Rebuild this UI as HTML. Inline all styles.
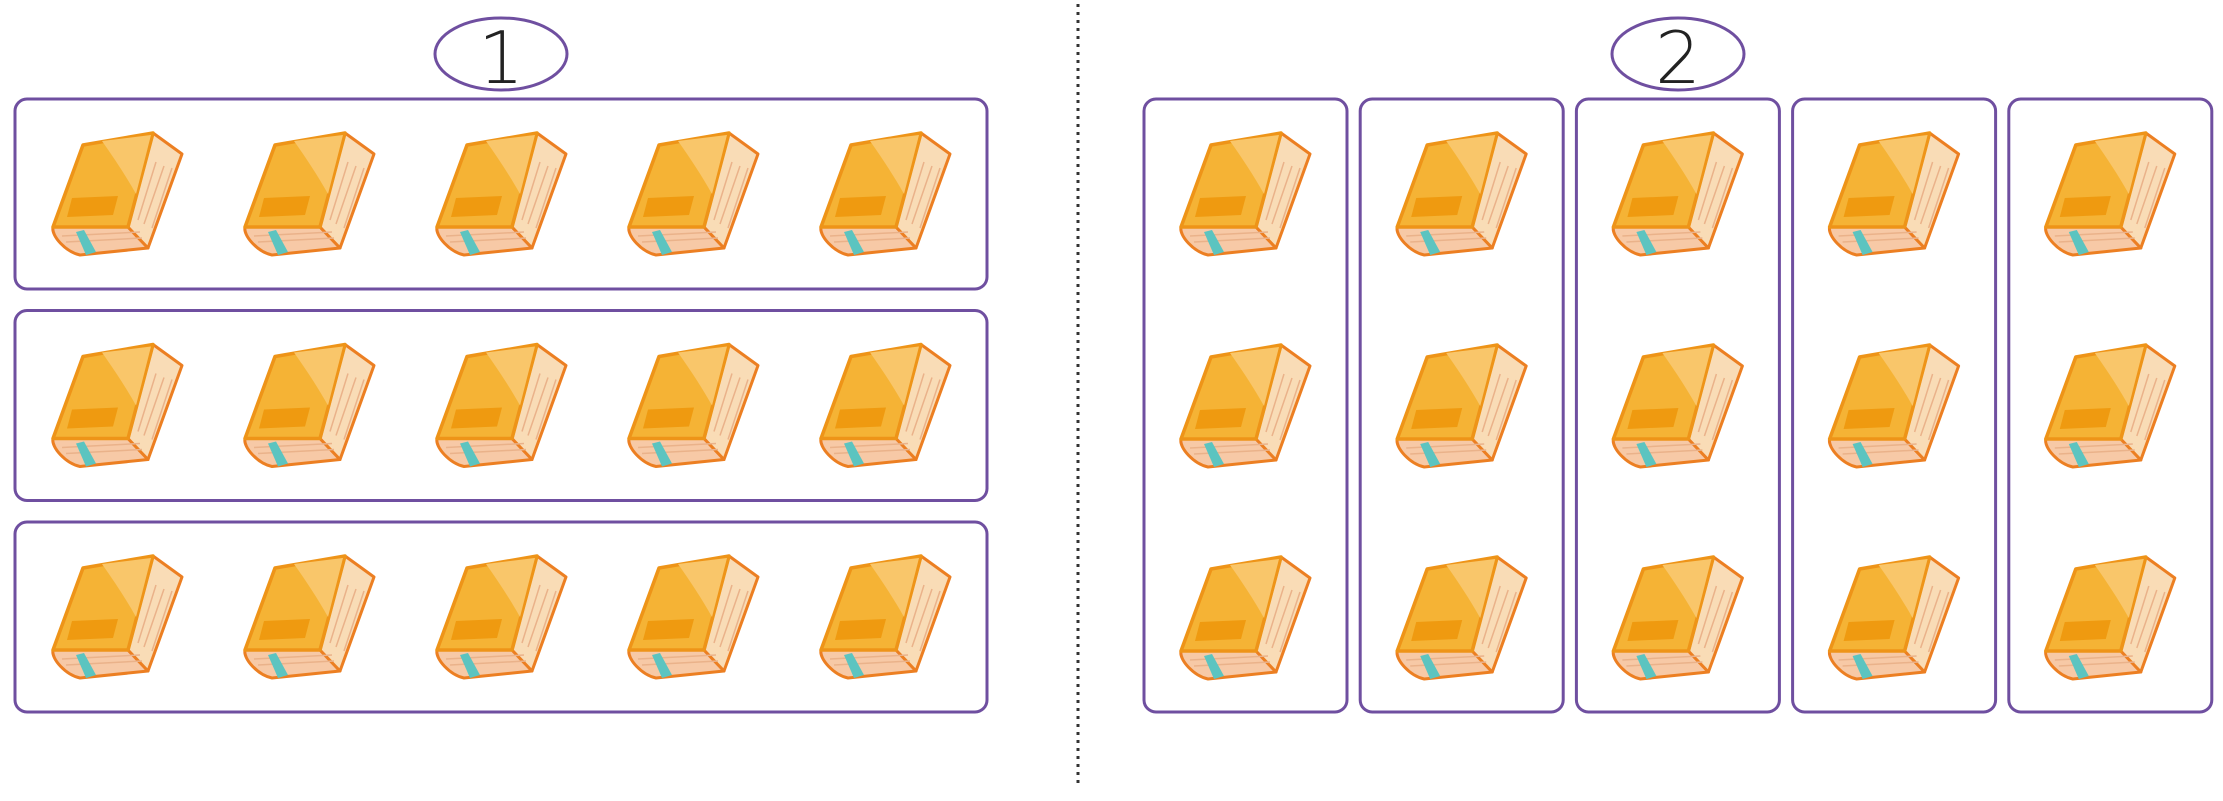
<!DOCTYPE html>
<html><head><meta charset="utf-8"><style>
html,body{margin:0;padding:0;background:#fff;width:2223px;height:801px;overflow:hidden}
svg{display:block}
</style></head><body>
<svg id="s" width="2223" height="801" viewBox="0 0 2223 801" xmlns="http://www.w3.org/2000/svg">
<defs>
<g id="book">
  <path d="M1,95 C-1,104 14,120 28,123 L96,116 L76,95 Z" fill="#f7c9a6" stroke="#ec7f22" stroke-width="3" stroke-linejoin="round"/>
  <path d="M101,1 L130,22 L96,116 L76,95 Z" fill="#f9dcb6" stroke="#ec7f22" stroke-width="3" stroke-linejoin="round"/>
  <path d="M104,30 L86,88 M112,34 L92,92 M120,36 L100,96" stroke="#eab28a" stroke-width="1.5"/>
  <path d="M10,104 L88,100 M14,110 L90,106" stroke="#eab28a" stroke-width="1.5"/>
  <path d="M31,13 L101,1 L76,95 L1,95 Z" fill="#f5b335" stroke="#ee9418" stroke-width="3.5" stroke-linejoin="round"/>
  <path d="M50,9 L99,3 L84,62 C74,44 62,26 50,9 Z" fill="#f9c66a"/>
  <path d="M20,66 L66,64 L61,83 L15,85 Z" fill="#ef9a10"/>
  <path d="M24,100 L32,98 L44,120 L34,123 Z" fill="#5cc4c0"/>
</g>
</defs>
<line x1="1078" y1="4" x2="1078" y2="784" stroke="#333" stroke-width="3" stroke-dasharray="3,5"/>
<ellipse cx="501" cy="54" rx="66" ry="36" fill="none" stroke="#6f4fa0" stroke-width="3"/>
<text x="501" y="83" text-anchor="middle" font-family="DejaVu Sans ExtraLight, DejaVu Sans, sans-serif" font-weight="200" font-size="72" fill="#222">1</text>
<ellipse cx="1678" cy="54" rx="66" ry="36" fill="none" stroke="#6f4fa0" stroke-width="3"/>
<text x="1678" y="83" text-anchor="middle" font-family="DejaVu Sans ExtraLight, DejaVu Sans, sans-serif" font-weight="200" font-size="72" fill="#222">2</text>
<g id="groups"></g>
</svg>
<script>
var leftRowCounts=[5,5,5];
var rightColCounts=[3,3,3,3,3];
var NS="http://www.w3.org/2000/svg";
var g=document.getElementById('groups');
function box(x,y,w,h,name){var r=document.createElementNS(NS,'rect');r.setAttribute('x',x);r.setAttribute('y',y);r.setAttribute('width',w);r.setAttribute('height',h);r.setAttribute('rx',12);r.setAttribute('fill','none');r.setAttribute('stroke','#6f4fa0');r.setAttribute('stroke-width',3);


g.appendChild(r);}
function book(x,y){var u=document.createElementNS(NS,'use');u.setAttribute('href','#book');u.setAttribute('x',x);u.setAttribute('y',y);


g.appendChild(u);}
leftRowCounts.forEach(function(n,i){var y=99+i*211.5;box(15,y,972,190,'row-group-'+(i+1));
for(var k=0;k<n;k++)book(52+k*192,y+33);});
rightColCounts.forEach(function(n,i){var x=1144+i*216.2;box(x,99,203,613,'column-group-'+(i+1));
for(var k=0;k<n;k++)book(x+36,132+k*212);});
</script>
</body></html>
